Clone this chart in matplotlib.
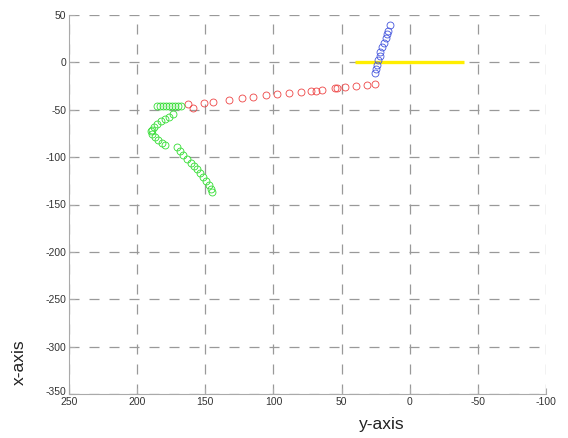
import matplotlib.pyplot as plt
import matplotlib.transforms as mtransforms

# --------------------------------------------------------------------------------
# DATA
# --------------------------------------------------------------------------------
blue_y_axis = [14.1, 15.9, 16.6, 17.6, 19.1, 20.0, 21.5, 22.0, 23.2, 24.0, 24.9, 25.7]
blue_x_axis = [39.5, 33.5, 30.0, 25.5, 20.8, 16.6, 11.4, 6.8, 2.6, -2.6, -7.2, -11.4]

red_y_axis = [162.5, 158.9, 151.0, 144.6, 132.7, 122.9, 114.9, 105.1, 97.7, 88.7,
              80.1, 72.1, 68.4, 64.0, 55.0, 53.0, 47.7, 39.1, 31.7, 25.7]
red_x_axis = [-44.0, -48.2, -42.9, -41.3, -39.5, -38.1, -36.6, -34.9, -33.5, -32.4,
              -31.1, -29.7, -29.7, -28.9, -27.2, -27.2, -26.1, -24.7, -23.7, -22.6]

green_y_axis = [185.5, 183.3, 181.1, 178.9, 176.7, 174.5, 172.3, 170.1, 167.9,
                173.8, 176.7, 179.6, 182.6, 185.5, 187.7, 189.1,
                189.9, 189.1, 187.0, 184.8, 181.8, 179.6, 170.8, 168.6, 166.4, 163.5,
                160.6, 158.4, 156.2, 154.0, 151.8, 149.6, 147.4, 145.9, 144.8]
green_x_axis = [-46.3, -46.3, -46.3, -46.3, -46.3, -46.3, -46.3, -46.3, -46.3,
                -54.2, -57.4, -59.5, -61.6, -64.7, -67.9, -71.0,
                -72.1, -75.3, -78.4, -81.6, -84.7, -86.8, -88.9, -93.2, -97.4, -101.6,
                -105.8, -108.9, -112.1, -116.3, -120.5, -124.7, -128.9, -133.2, -137.1]

yellow_y_axis = [40, -40]
yellow_x_axis = [0, 0]

x_ticks = [250, 200, 150, 100, 50, 0, -50, -100]
y_ticks = [50, 0, -50, -100, -150, -200, -250, -300, -350]

# --------------------------------------------------------------------------------
# PLOT
# --------------------------------------------------------------------------------
plt.rcParams['font.family'] = ['Liberation Sans', 'DejaVu Sans']
plt.rcParams['axes.unicode_minus'] = False

fig = plt.figure(figsize=(5.68, 4.38), dpi=100)
ax = fig.add_axes([69 / 568, 1 - 394 / 438, 477 / 568, 379 / 438])

ax.plot(yellow_y_axis, yellow_x_axis, color='#ffee00', linewidth=2.4, solid_capstyle='butt', zorder=2)
ax.plot(blue_y_axis, blue_x_axis, linestyle='none', marker='o', markersize=5,
        markerfacecolor='none', markeredgecolor='#4455dd', markeredgewidth=0.6, zorder=3)
ax.plot(red_y_axis, red_x_axis, linestyle='none', marker='o', markersize=5,
        markerfacecolor='none', markeredgecolor='#ee4444', markeredgewidth=0.6, zorder=3)
ax.plot(green_y_axis, green_x_axis, linestyle='none', marker='o', markersize=5,
        markerfacecolor='none', markeredgecolor='#33dd33', markeredgewidth=0.6, zorder=3)

# axes, grid
ax.set_xlim(250, -100)
ax.set_ylim(-350, 50)
ax.set_xticks(x_ticks)
ax.set_yticks(y_ticks)
ax.grid(True, linestyle=(0, (8, 8)), color='#999999', linewidth=0.9)
ax.set_axisbelow(True)
for side in ['top', 'right']:
    ax.spines[side].set_visible(False)
for side in ['left', 'bottom']:
    ax.spines[side].set_color('#aaaaaa')
ax.tick_params(direction='in', length=4, color='#aaaaaa', labelsize=7.5, labelcolor='#333333', pad=2)

# nudge the corner labels apart, like the reference
lbl = ax.get_yticklabels()[-1]
lbl.set_transform(lbl.get_transform() + mtransforms.ScaledTranslation(0, 3 / 100, fig.dpi_scale_trans))

# labels
ax.set_xlabel("y-axis", fontsize=12.5, color='#222222')
ax.xaxis.set_label_coords((382 - 69) / 477, -0.08)
ax.xaxis.label.set_va('center')
ax.set_ylabel("x-axis", fontsize=12.5, color='#222222')
ax.yaxis.set_label_coords(-0.105, 0.084)
ax.yaxis.label.set_va('center')

fig.savefig("out.png", dpi=100)
